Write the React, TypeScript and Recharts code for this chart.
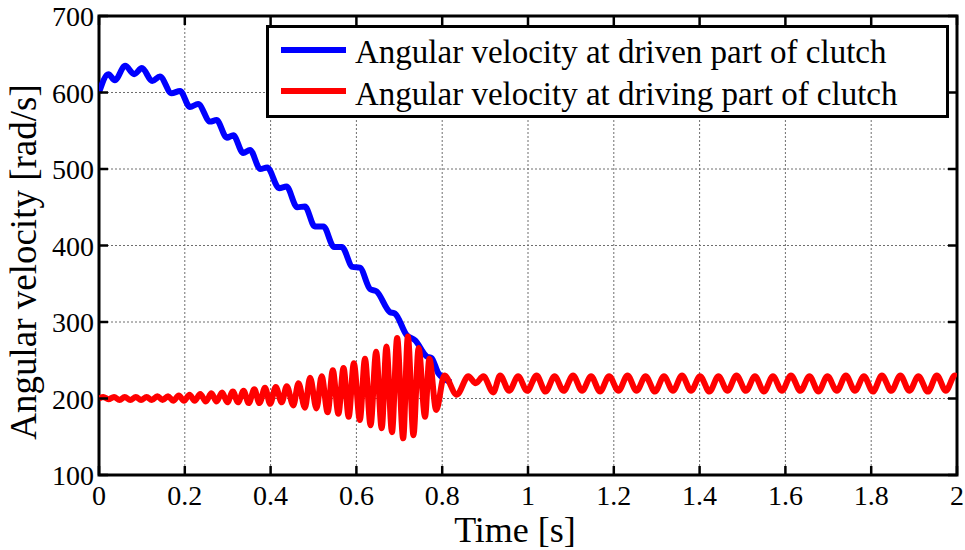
import React from 'react';
import { LineChart, Line, XAxis, YAxis, CartesianGrid, Legend, ReferenceArea, Label } from 'recharts';

// time [s], angular velocity [rad/s] (peaks and troughs of the ripple)
const drivenPoints: [number, number][] = [
  [0, 600], [0.022, 624], [0.037, 616], [0.061, 635], [0.082, 624], [0.1, 632],
  [0.124, 615], [0.142, 621], [0.169, 599], [0.189, 602], [0.212, 581], [0.231, 585],
  [0.259, 562], [0.274, 564], [0.298, 541], [0.313, 544], [0.336, 521], [0.352, 525],
  [0.376, 500], [0.392, 502], [0.42, 475], [0.437, 477], [0.462, 450], [0.48, 451],
  [0.503, 425], [0.523, 425], [0.548, 398], [0.566, 398], [0.591, 372], [0.608, 371],
  [0.632, 343], [0.647, 340], [0.678, 313], [0.69, 311], [0.717, 283], [0.737, 276],
  [0.764, 255], [0.775, 253], [0.791, 233], [0.805, 226], [0.82, 221],
];

const drivingRampUp: [number, number][] = [
  [0, 200], [0.01, 202], [0.022, 199], [0.035, 202], [0.048, 198], [0.06, 202],
  [0.073, 198], [0.086, 202], [0.098, 198], [0.111, 202], [0.123, 198], [0.136, 203],
  [0.148, 198], [0.161, 203], [0.173, 197], [0.186, 204], [0.198, 197], [0.211, 205],
  [0.223, 197], [0.236, 206], [0.249, 196], [0.262, 207], [0.274, 196], [0.287, 208],
  [0.299, 195], [0.312, 209], [0.324, 195], [0.337, 210], [0.349, 194], [0.362, 212],
  [0.374, 194], [0.387, 214], [0.399, 193], [0.412, 215], [0.426, 195],
];

const drivingTransient: [number, number][] = [
  [0.4375, 216], [0.453, 191], [0.465, 220], [0.48, 188], [0.492, 227], [0.507, 187],
  [0.519, 229], [0.533, 182], [0.545, 237], [0.558, 180], [0.57, 240], [0.582, 176],
  [0.594, 246], [0.608, 172], [0.62, 252], [0.633, 165], [0.646, 261], [0.659, 161],
  [0.67, 268], [0.683, 156], [0.695, 279], [0.709, 148], [0.72, 281], [0.733, 152],
  [0.745, 266], [0.76, 176], [0.77, 252], [0.786, 185], [0.805, 230], [0.834, 205],
  [0.861, 229], [0.878, 220], [0.896, 229], [0.919, 208],
];

const drivingSteady: [number, number][] = [
  [0.935, 230], [0.956, 210], [0.977, 229], [0.998, 210], [1.02, 230], [1.041, 209],
  [1.062, 229], [1.083, 210], [1.105, 230], [1.126, 210], [1.147, 229], [1.168, 209],
  [1.189, 229], [1.211, 210], [1.232, 230], [1.253, 210], [1.274, 229], [1.296, 209],
  [1.317, 229], [1.338, 210], [1.359, 230], [1.38, 210], [1.401, 229], [1.423, 209],
  [1.444, 229], [1.465, 210], [1.486, 230], [1.508, 210], [1.529, 229], [1.55, 209],
  [1.571, 229], [1.592, 210], [1.613, 230], [1.635, 210], [1.656, 229], [1.677, 209],
  [1.698, 229], [1.72, 210], [1.741, 230], [1.762, 210], [1.783, 229], [1.804, 209],
  [1.825, 230], [1.847, 210], [1.868, 230], [1.889, 210], [1.91, 229], [1.932, 209],
  [1.953, 230], [1.974, 210], [1.995, 230], [2.0, 229],
];

const timeTicks = [0, 0.2, 0.4, 0.6, 0.8, 1, 1.2, 1.4, 1.6, 1.8, 2];
const velocityTicks = [100, 200, 300, 400, 500, 600, 700];

const seriesNames = [
  'Angular velocity at driven part of clutch',
  'Angular velocity at driving part of clutch',
];

const FONT = '"Liberation Serif", "Times New Roman", serif';
const PLOT = { left: 99, right: 957, top: 16, bottom: 475 };
const TICK = 9;

const toRows = (pts: [number, number][]) => pts.map(([t, v]) => ({ t, v }));
const drivenData = toRows(drivenPoints);
const drivingData = toRows([...drivingRampUp, ...drivingTransient, ...drivingSteady]);

const TimeTick = (props: any) => {
  const { x, payload } = props;
  return (
    <g>
      <line x1={x} x2={x} y1={PLOT.bottom} y2={PLOT.bottom - TICK} stroke="#000" strokeWidth={2.5} />
      <line x1={x} x2={x} y1={PLOT.top} y2={PLOT.top + TICK} stroke="#000" strokeWidth={2.5} />
      <text x={x} y={PLOT.bottom + 30} textAnchor="middle" fontSize={28} fontFamily={FONT} fill="#000">
        {String(payload.value)}
      </text>
    </g>
  );
};

const VelocityTick = (props: any) => {
  const { y, payload } = props;
  return (
    <g>
      <line x1={PLOT.left} x2={PLOT.left + TICK} y1={y} y2={y} stroke="#000" strokeWidth={2.5} />
      <line x1={PLOT.right} x2={PLOT.right - TICK} y1={y} y2={y} stroke="#000" strokeWidth={2.5} />
      <text x={PLOT.left - 5} y={y + 10} textAnchor="end" fontSize={28} fontFamily={FONT} fill="#000">
        {String(payload.value)}
      </text>
    </g>
  );
};

const TimeLabel = () => (
  <text x={515} y={542} textAnchor="middle" fontSize={36} fontFamily={FONT} fill="#000">
    Time [s]
  </text>
);

const VelocityLabel = () => (
  <text
    transform="translate(36, 262) rotate(-90)"
    textAnchor="middle"
    fontSize={37}
    fontFamily={FONT}
    fill="#000"
  >
    Angular velocity [rad/s]
  </text>
);

const LegendBox = () => (
  <svg width={683} height={93} style={{ display: 'block' }}>
    <rect x={1.5} y={1.5} width={680} height={90} fill="#fff" stroke="#000" strokeWidth={3} />
    <line x1={15} x2={80} y1={25} y2={25} stroke="#0000ff" strokeWidth={6} />
    <line x1={15} x2={80} y1={66} y2={66} stroke="#ff0000" strokeWidth={6} />
    <text x={89} y={38} fontSize={33} fontFamily={FONT} fill="#000">{seriesNames[0]}</text>
    <text x={89} y={80} fontSize={33} fontFamily={FONT} fill="#000">{seriesNames[1]}</text>
  </svg>
);

export default function App() {
  return (
    <div style={{ position: 'absolute', left: 0, top: 0, width: 965, height: 550, background: '#fff' }}>
      <LineChart
        width={965}
        height={550}
        margin={{ top: PLOT.top, right: 965 - PLOT.right, bottom: 0, left: 0 }}
      >
        <CartesianGrid stroke="#6e6e6e" strokeWidth={1} strokeDasharray="2 2" />
        <XAxis
          type="number"
          dataKey="t"
          domain={[0, 2]}
          ticks={timeTicks}
          height={550 - PLOT.bottom}
          axisLine={false}
          tickLine={false}
          tick={<TimeTick />}
          allowDataOverflow
        >
          <Label content={<TimeLabel />} />
        </XAxis>
        <YAxis
          type="number"
          domain={[100, 700]}
          ticks={velocityTicks}
          width={PLOT.left}
          axisLine={false}
          tickLine={false}
          tick={<VelocityTick />}
          allowDataOverflow
        >
          <Label content={<VelocityLabel />} />
        </YAxis>
        <ReferenceArea x1={0} x2={2} y1={100} y2={700} fill="none" stroke="#000" strokeWidth={3} />
        <Line
          data={drivenData}
          dataKey="v"
          name={seriesNames[0]}
          type="monotone"
          stroke="#0000ff"
          strokeWidth={6}
          dot={false}
          isAnimationActive={false}
        />
        <Line
          data={drivingData}
          dataKey="v"
          name={seriesNames[1]}
          type="monotone"
          stroke="#ff0000"
          strokeWidth={6}
          dot={false}
          isAnimationActive={false}
        />
        <Legend
          layout="vertical"
          verticalAlign="middle"
          align="center"
          content={<LegendBox />}
          wrapperStyle={{ left: 266, top: 25, width: 683, height: 93 }}
        />
      </LineChart>
    </div>
  );
}
